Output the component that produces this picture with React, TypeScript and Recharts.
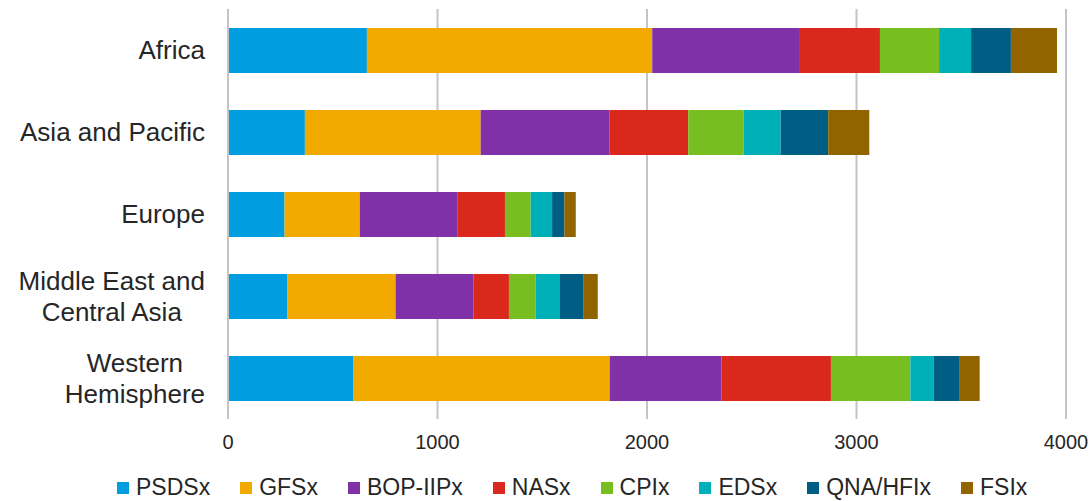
import { BarChart, Bar, XAxis, YAxis, CartesianGrid } from "recharts";

const regions = [
  "Africa",
  "Asia and Pacific",
  "Europe",
  "Middle East and\nCentral Asia",
  "Western\nHemisphere",
];

const seriesNames = ["PSDSx", "GFSx", "BOP-IIPx", "NASx", "CPIx", "EDSx", "QNA/HFIx", "FSIx"];
const seriesColors = ["#009ee0", "#f2aa00", "#8031a7", "#da291c", "#78be20", "#00b0b9", "#005d84", "#916400"];

// one array per series, in region order
const psds = [663, 367, 270, 282, 597];
const gfs = [1362, 839, 359, 518, 1225];
const bop = [705, 614, 465, 371, 533];
const nas = [382, 377, 228, 170, 523];
const cpi = [282, 264, 123, 128, 379];
const eds = [153, 177, 102, 113, 112];
const qna = [190, 227, 59, 113, 124];
const fsi = [220, 196, 54, 70, 95];

const xTicks = [0, 1000, 2000, 3000, 4000];

const seriesValues = [psds, gfs, bop, nas, cpi, eds, qna, fsi];

const data = regions.map((region, i) => {
  const row: Record<string, string | number> = { region };
  seriesNames.forEach((name, s) => {
    row[name] = seriesValues[s][i];
  });
  return row;
});

const TEXT = "#262626";
const FONT = "'Liberation Sans', Arial, sans-serif";

let ctx: CanvasRenderingContext2D | null = null;
const measure = (s: string, size: number) => {
  if (!ctx) ctx = document.createElement("canvas").getContext("2d");
  if (!ctx) return s.length * size * 0.5;
  ctx.font = `${size}px ${FONT}`;
  return ctx.measureText(s).width;
};

const RegionTick = (props: any) => {
  const { x, y, payload } = props;
  const lines: string[] = String(payload.value).split("\n");
  const size = 26;
  const lineH = 31;
  const right = x - 23;
  const blockW = Math.max(...lines.map((l) => measure(l, size)));
  const cx = right - blockW / 2;
  const startY = y - ((lines.length - 1) * lineH) / 2;
  return (
    <g>
      {lines.map((l, i) => (
        <text
          key={i}
          x={cx}
          y={startY + i * lineH}
          textAnchor="middle"
          dominantBaseline="central"
          fontSize={size}
          fontFamily={FONT}
          fill={TEXT}
        >
          {l}
        </text>
      ))}
    </g>
  );
};

export default function App() {
  return (
    <div style={{ position: "absolute", left: 0, top: 0, width: 1091, height: 501, background: "#fff" }}>
      <BarChart
        width={1091}
        height={501}
        data={data}
        layout="vertical"
        margin={{ top: 9, right: 25, left: 0, bottom: 47 }}
        barSize={45}
      >
        <CartesianGrid horizontal={false} vertical stroke="#c4c4c4" strokeWidth={2} />
        <XAxis
          type="number"
          domain={[0, 4000]}
          ticks={xTicks}
          axisLine={false}
          tickLine={false}
          tickSize={0}
          tickMargin={16}
          height={35}
          tick={{ fontSize: 20, fill: TEXT, fontFamily: FONT }}
        />
        <YAxis
          type="category"
          dataKey="region"
          width={228}
          axisLine={{ stroke: "#c4c4c4", strokeWidth: 2 }}
          tickLine={false}
          tickSize={0}
          tickMargin={0}
          tick={<RegionTick />}
        />
        {seriesNames.map((name, s) => (
          <Bar key={name} dataKey={name} stackId="a" fill={seriesColors[s]} isAnimationActive={false} />
        ))}
      </BarChart>
      <div
        style={{
          position: "absolute",
          left: 117,
          top: 474,
          display: "flex",
          alignItems: "center",
          fontFamily: FONT,
          fontSize: 23,
          color: TEXT,
          whiteSpace: "nowrap",
        }}
      >
        {seriesNames.map((name, s) => (
          <div key={name} style={{ display: "flex", alignItems: "center", marginRight: 30 }}>
            <span style={{ width: 12, height: 12, background: seriesColors[s], marginRight: 7, display: "inline-block" }} />
            <span>{name}</span>
          </div>
        ))}
      </div>
    </div>
  );
}
